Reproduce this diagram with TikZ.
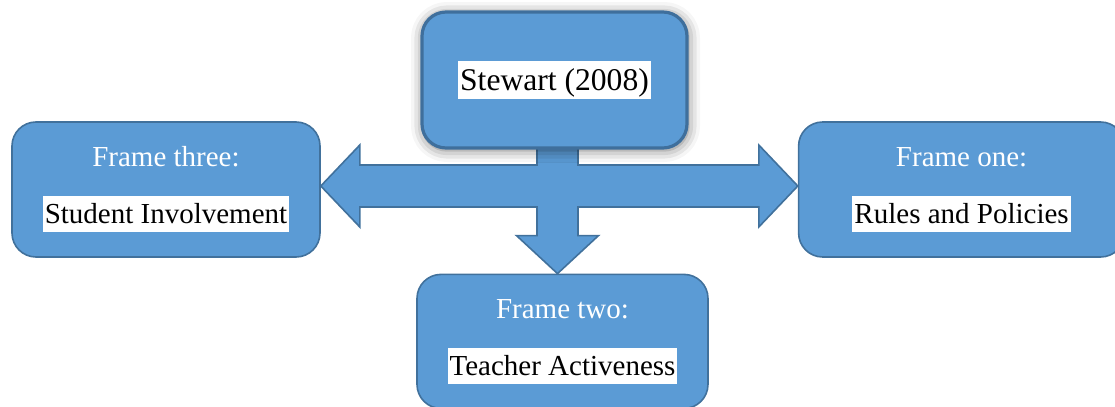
\documentclass[tikz,border=0pt]{standalone}
\usepackage{fontspec}
\setmainfont{Liberation Serif}
\usetikzlibrary{positioning,calc,backgrounds,shadows.blur}

\definecolor{boxblue}{HTML}{5B9BD5}
\definecolor{boxline}{HTML}{41719C}
\definecolor{boxedge}{HTML}{3F6F9C}

% white highlight behind the dark labels
\newcommand\hilite[1]{{\setlength{\fboxsep}{1pt}\colorbox{white}{\rule[-0.22em]{0pt}{1.1em}#1}}}

\begin{document}
\begin{tikzpicture}[x=0.5pt,y=-0.5pt]
  \tikzstyle{frame} = [draw=boxline,fill=boxblue,line width=0.8pt,rounded corners=12pt,
    align=center,inner sep=0pt,font=\fontsize{14.5}{28.5}\selectfont]
  \tikzstyle{fatarrow} = [draw=boxline,fill=boxblue,line width=0.8pt,line join=miter]
  \useasboundingbox (0,0) rectangle (1115,407);
  \clip (0,0) rectangle (1115,407);
  \node (stew) [frame, draw=boxedge, line width=1.6pt, minimum width=132.5pt, minimum height=68pt,
    font=\fontsize{15.8}{19}\selectfont,
    blur shadow={shadow xshift=0.5pt, shadow yshift=-1pt, shadow blur radius=6pt, shadow opacity=55}]
    at (554.5,80) {\hilite{Stewart (2008)}};
  \node (three) [frame, minimum width=154pt, minimum height=67.5pt] at (166,189.5)
    {\textcolor{white}{Frame three:}\\\hilite{Student Involvement}};
  \node (one) [frame, minimum width=163pt, minimum height=67.5pt, right=238.5pt of three]
    {\textcolor{white}{Frame one:}\\\hilite{Rules and Policies}};
  \node (two) [frame, minimum width=145.5pt, minimum height=67pt, below=62pt of stew, xshift=4pt]
    {\textcolor{white}{Frame two:}\\\hilite{Teacher Activeness}};
  \coordinate (hub) at (557.5,186);
  \begin{scope}[on background layer]
    \draw [fatarrow] (three.east |- hub) -- ++(39,-41) -- ++(0,20)
      -- ($(hub)+(-20.5,-21)$) -- ($(stew.south -| hub)+(-20.5,-10)$) -- ++(41,0)
      -- ($(hub)+(20.5,-21)$) -- ($(one.west |- hub)+(-39,-21)$) -- ++(0,-20)
      -- (one.west |- hub) -- ++(-39,41) -- ++(0,-20)
      -- ($(hub)+(20.5,21)$) -- ($(hub |- two.north)+(20.5,-38)$) -- ++(20.5,0)
      -- (hub |- two.north) -- ++(-41,-38) -- ++(20.5,0)
      -- ($(hub)+(-20.5,21)$) -- ($(three.east |- hub)+(39,21)$) -- ++(0,20) -- cycle;
  \end{scope}
\end{tikzpicture}
\end{document}
